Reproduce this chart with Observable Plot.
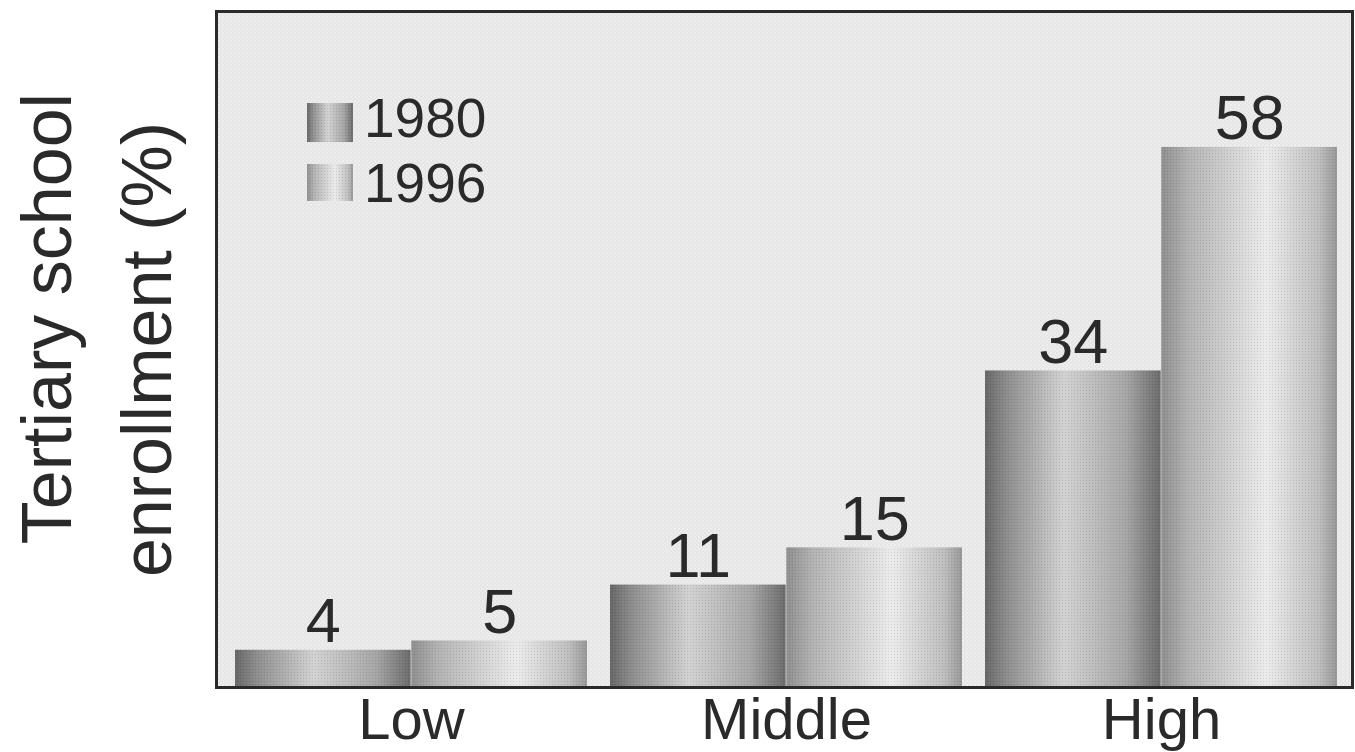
<!DOCTYPE html>
<html>
<head>
<meta charset="utf-8">
<script src="https://cdn.jsdelivr.net/npm/d3@7"></script>
<script src="https://cdn.jsdelivr.net/npm/@observablehq/plot@0.6"></script>
<style>
  html, body { margin: 0; padding: 0; background: #fff; }
  #wrap { position: relative; width: 1355px; height: 752px; font-family: "Liberation Sans", Arial, sans-serif; }
  #legend { position: absolute; left: 0; top: 0; pointer-events: none; }
</style>
</head>
<body>
<svg width="0" height="0" style="position:absolute">
  <defs>
    <linearGradient id="g1980" x1="0" y1="0" x2="1" y2="0">
      <stop offset="0" stop-color="#666"/>
      <stop offset="0.12" stop-color="#8c8c8c"/>
      <stop offset="0.45" stop-color="#d2d2d2"/>
      <stop offset="0.8" stop-color="#a6a6a6"/>
      <stop offset="1" stop-color="#6a6a6a"/>
    </linearGradient>
    <linearGradient id="g1996" x1="0" y1="0" x2="1" y2="0">
      <stop offset="0" stop-color="#8e8e8e"/>
      <stop offset="0.15" stop-color="#b2b2b2"/>
      <stop offset="0.6" stop-color="#ebebeb"/>
      <stop offset="0.9" stop-color="#bdbdbd"/>
      <stop offset="1" stop-color="#979797"/>
    </linearGradient>
    <pattern id="bgpat" width="4" height="4" patternUnits="userSpaceOnUse">
      <rect width="4" height="4" fill="#ebebeb"/>
      <rect x="0" y="0" width="1" height="1" fill="#d4d4d4"/>
      <rect x="2" y="2" width="1" height="1" fill="#d8d8d8"/>
      <rect x="2" y="0" width="1" height="1" fill="#f6f6f6"/>
    </pattern>
    <pattern id="dots" width="3" height="3" patternUnits="userSpaceOnUse">
      <rect x="0" y="0" width="1" height="1" fill="rgba(0,0,0,0.10)"/>
      <rect x="1.5" y="1.5" width="1" height="1" fill="rgba(255,255,255,0.10)"/>
    </pattern>
  </defs>
</svg>
<div id="wrap"></div>
<script>
// ---- data ----
const groups = ["Low", "Middle", "High"];
const years = ["1980", "1996"];
const values1980 = [4, 11, 34];
const values1996 = [5, 15, 58];
const yTitleLines = ["Tertiary school", "enrollment (%)"];

const d1980 = groups.map((g, i) => ({group: g, year: "1980", value: values1980[i]}));
const d1996 = groups.map((g, i) => ({group: g, year: "1996", value: values1996[i]}));

const half = 176.35;
const font = "Liberation Sans, Arial, sans-serif";
const ink = "#2a2a2a";

const chart = Plot.plot({
  width: 1355,
  height: 752,
  marginLeft: 216,
  marginRight: 3,
  marginTop: 11,
  marginBottom: 65,
  style: {fontFamily: font, background: "transparent", color: ink, overflow: "visible"},
  x: {domain: groups, paddingInner: 0.061, paddingOuter: 0, insetLeft: 18, insetRight: 14, axis: null},
  y: {domain: [0, 72.6], axis: null},
  marks: [
    Plot.frame({fill: "url(#bgpat)", stroke: "none"}),
    Plot.barY(d1980, {x: "group", y: "value", fill: "url(#g1980)", insetRight: half}),
    Plot.barY(d1996, {x: "group", y: "value", fill: "url(#g1996)", insetLeft: half}),
    Plot.barY(d1980, {x: "group", y: "value", fill: "url(#dots)", insetRight: half}),
    Plot.barY(d1996, {x: "group", y: "value", fill: "url(#dots)", insetLeft: half}),
    Plot.text(d1980, {x: "group", y: "value", text: d => String(d.value), dx: -half / 2, dy: -8, lineAnchor: "bottom", fontSize: 63, fill: ink}),
    Plot.text(d1996, {x: "group", y: "value", text: d => String(d.value), dx: half / 2, dy: -8, lineAnchor: "bottom", fontSize: 63, fill: ink}),
    Plot.axisX({tickSize: 0, tickPadding: 10, fontSize: 58, label: null, fill: ink}),
    Plot.text([yTitleLines[0]], {text: d => d, frameAnchor: "left", textAnchor: "middle", rotate: -90, lineAnchor: "bottom", dx: -146, dy: -31, fontSize: 70, fill: ink}),
    Plot.text([yTitleLines[1]], {text: d => d, frameAnchor: "left", textAnchor: "middle", rotate: -90, lineAnchor: "bottom", dx: -46, dy: 0, fontSize: 70, fill: ink}),
    Plot.frame({stroke: "#2a2a2a", strokeWidth: 3, fill: "none"})
  ]
});

const wrap = document.getElementById("wrap");
wrap.appendChild(chart);

// legend overlay
const ns = "http://www.w3.org/2000/svg";
const leg = document.createElementNS(ns, "svg");
leg.setAttribute("id", "legend");
leg.setAttribute("width", "1355");
leg.setAttribute("height", "752");
const legendItems = [
  {year: years[0], fill: "url(#g1980)", y: 103, h: 39, base: 137},
  {year: years[1], fill: "url(#g1996)", y: 164, h: 37, base: 202}
];
for (const it of legendItems) {
  for (const f of [it.fill, "url(#dots)"]) {
    const r = document.createElementNS(ns, "rect");
    r.setAttribute("x", 307); r.setAttribute("y", it.y);
    r.setAttribute("width", 46); r.setAttribute("height", it.h);
    r.setAttribute("fill", f);
    leg.appendChild(r);
  }
  const t = document.createElementNS(ns, "text");
  t.setAttribute("x", 364); t.setAttribute("y", it.base);
  t.setAttribute("font-size", 55);
  t.setAttribute("font-family", font);
  t.setAttribute("fill", ink);
  t.textContent = it.year;
  leg.appendChild(t);
}
wrap.appendChild(leg);
</script>
</body>
</html>
